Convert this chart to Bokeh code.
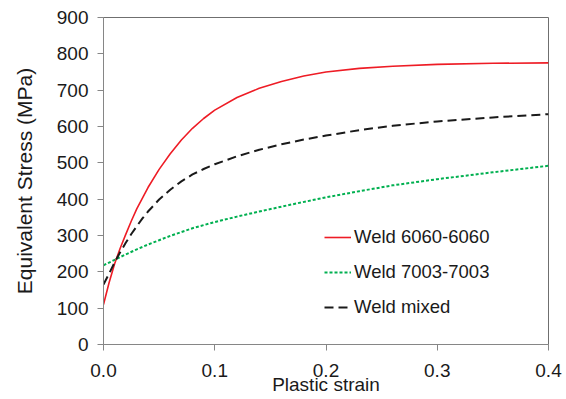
from bokeh.plotting import figure
from bokeh.models import Range1d, FixedTicker, PrintfTickFormatter, Legend, LegendItem
from bokeh.embed import file_html
from bokeh.resources import INLINE

# Data
strain_6060 = [0.0, 0.005, 0.01, 0.015, 0.02, 0.025, 0.03, 0.04, 0.05, 0.06, 0.07, 0.08, 0.09,
               0.10, 0.12, 0.14, 0.16, 0.18, 0.20, 0.23, 0.26, 0.30, 0.35, 0.40]
stress_6060 = [110, 170, 222, 265, 303, 340, 374, 432, 482, 525, 563, 595, 622,
               645, 680, 705, 724, 739, 750, 760, 766, 771, 774, 775]

strain_7003 = [0.0, 0.01, 0.02, 0.03, 0.04, 0.05, 0.06, 0.08, 0.10, 0.12, 0.14, 0.17,
               0.20, 0.23, 0.26, 0.30, 0.35, 0.40]
stress_7003 = [218, 233, 248, 262, 275, 287, 299, 320, 337, 352, 366, 386,
               405, 422, 438, 455, 474, 492]

strain_mixed = [0.0, 0.005, 0.01, 0.015, 0.02, 0.025, 0.03, 0.035, 0.04, 0.05, 0.06, 0.07, 0.08, 0.09,
                0.10, 0.12, 0.14, 0.16, 0.18, 0.20, 0.23, 0.26, 0.30, 0.35, 0.40]
stress_mixed = [165, 195, 226, 254, 280, 304, 326, 347, 366, 399, 426, 449, 468, 483,
                496, 518, 536, 551, 564, 575, 590, 602, 614, 625, 634]

x_ticks = [0.0, 0.1, 0.2, 0.3, 0.4]
y_ticks = [0, 100, 200, 300, 400, 500, 600, 700, 800, 900]
labels = ["Weld 6060-6060", "Weld 7003-7003", "Weld mixed"]

FONT = "Liberation Sans"
AXIS_GREY = "#868686"

p = figure(width=566, height=399, output_backend="svg", toolbar_location=None,
           x_range=Range1d(0, 0.4), y_range=Range1d(0, 900),
           min_border_left=103, min_border_right=18, min_border_top=17, min_border_bottom=55)

p.xgrid.visible = False
p.ygrid.visible = False
p.background_fill_color = "white"
p.border_fill_color = "white"
p.outline_line_color = "#6f6f6f"
p.outline_line_width = 1

r1 = p.line(strain_6060, stress_6060, line_color="#ee1c25", line_width=1.6)
r2 = p.line(strain_7003, stress_7003, line_color="#00b050", line_width=2, line_dash="3 2")
r3 = p.line(strain_mixed, stress_mixed, line_color="#1a1a1a", line_width=2, line_dash="9 5")

for ax in (p.xaxis[0], p.yaxis[0]):
    ax.axis_line_color = AXIS_GREY
    ax.major_tick_line_color = AXIS_GREY
    ax.minor_tick_line_color = None
    ax.major_tick_out = 6
    ax.major_tick_in = 0
    ax.major_label_text_font = FONT
    ax.major_label_text_font_size = "19px"
    ax.major_label_text_color = "#1a1a1a"
    ax.axis_label_text_font = FONT
    ax.axis_label_text_font_style = "normal"
    ax.axis_label_text_color = "#1a1a1a"

p.xaxis.ticker = FixedTicker(ticks=x_ticks)
p.xaxis.formatter = PrintfTickFormatter(format="%.1f")
p.xaxis.axis_label = "Plastic strain"
p.xaxis.axis_label_text_font_size = "19px"
p.xaxis.major_label_standoff = 13
p.xaxis.axis_label_standoff = -6

p.yaxis.ticker = FixedTicker(ticks=y_ticks)
p.yaxis.axis_label = "Equivalent Stress (MPa)"
p.yaxis.axis_label_text_font_size = "21px"
p.yaxis.major_label_standoff = 9
p.yaxis.axis_label_standoff = 18

legend = Legend(items=[LegendItem(label=labels[0], renderers=[r1]),
                       LegendItem(label=labels[1], renderers=[r2]),
                       LegendItem(label=labels[2], renderers=[r3])],
                location=(221, 26), padding=0, margin=0, spacing=13,
                glyph_width=27, glyph_height=20, label_height=20, label_standoff=3,
                border_line_alpha=0, background_fill_alpha=0,
                label_text_font=FONT, label_text_font_size="18.5px", label_text_color="#1a1a1a")
p.add_layout(legend)

open("out.html", "w").write(file_html(p, INLINE))
